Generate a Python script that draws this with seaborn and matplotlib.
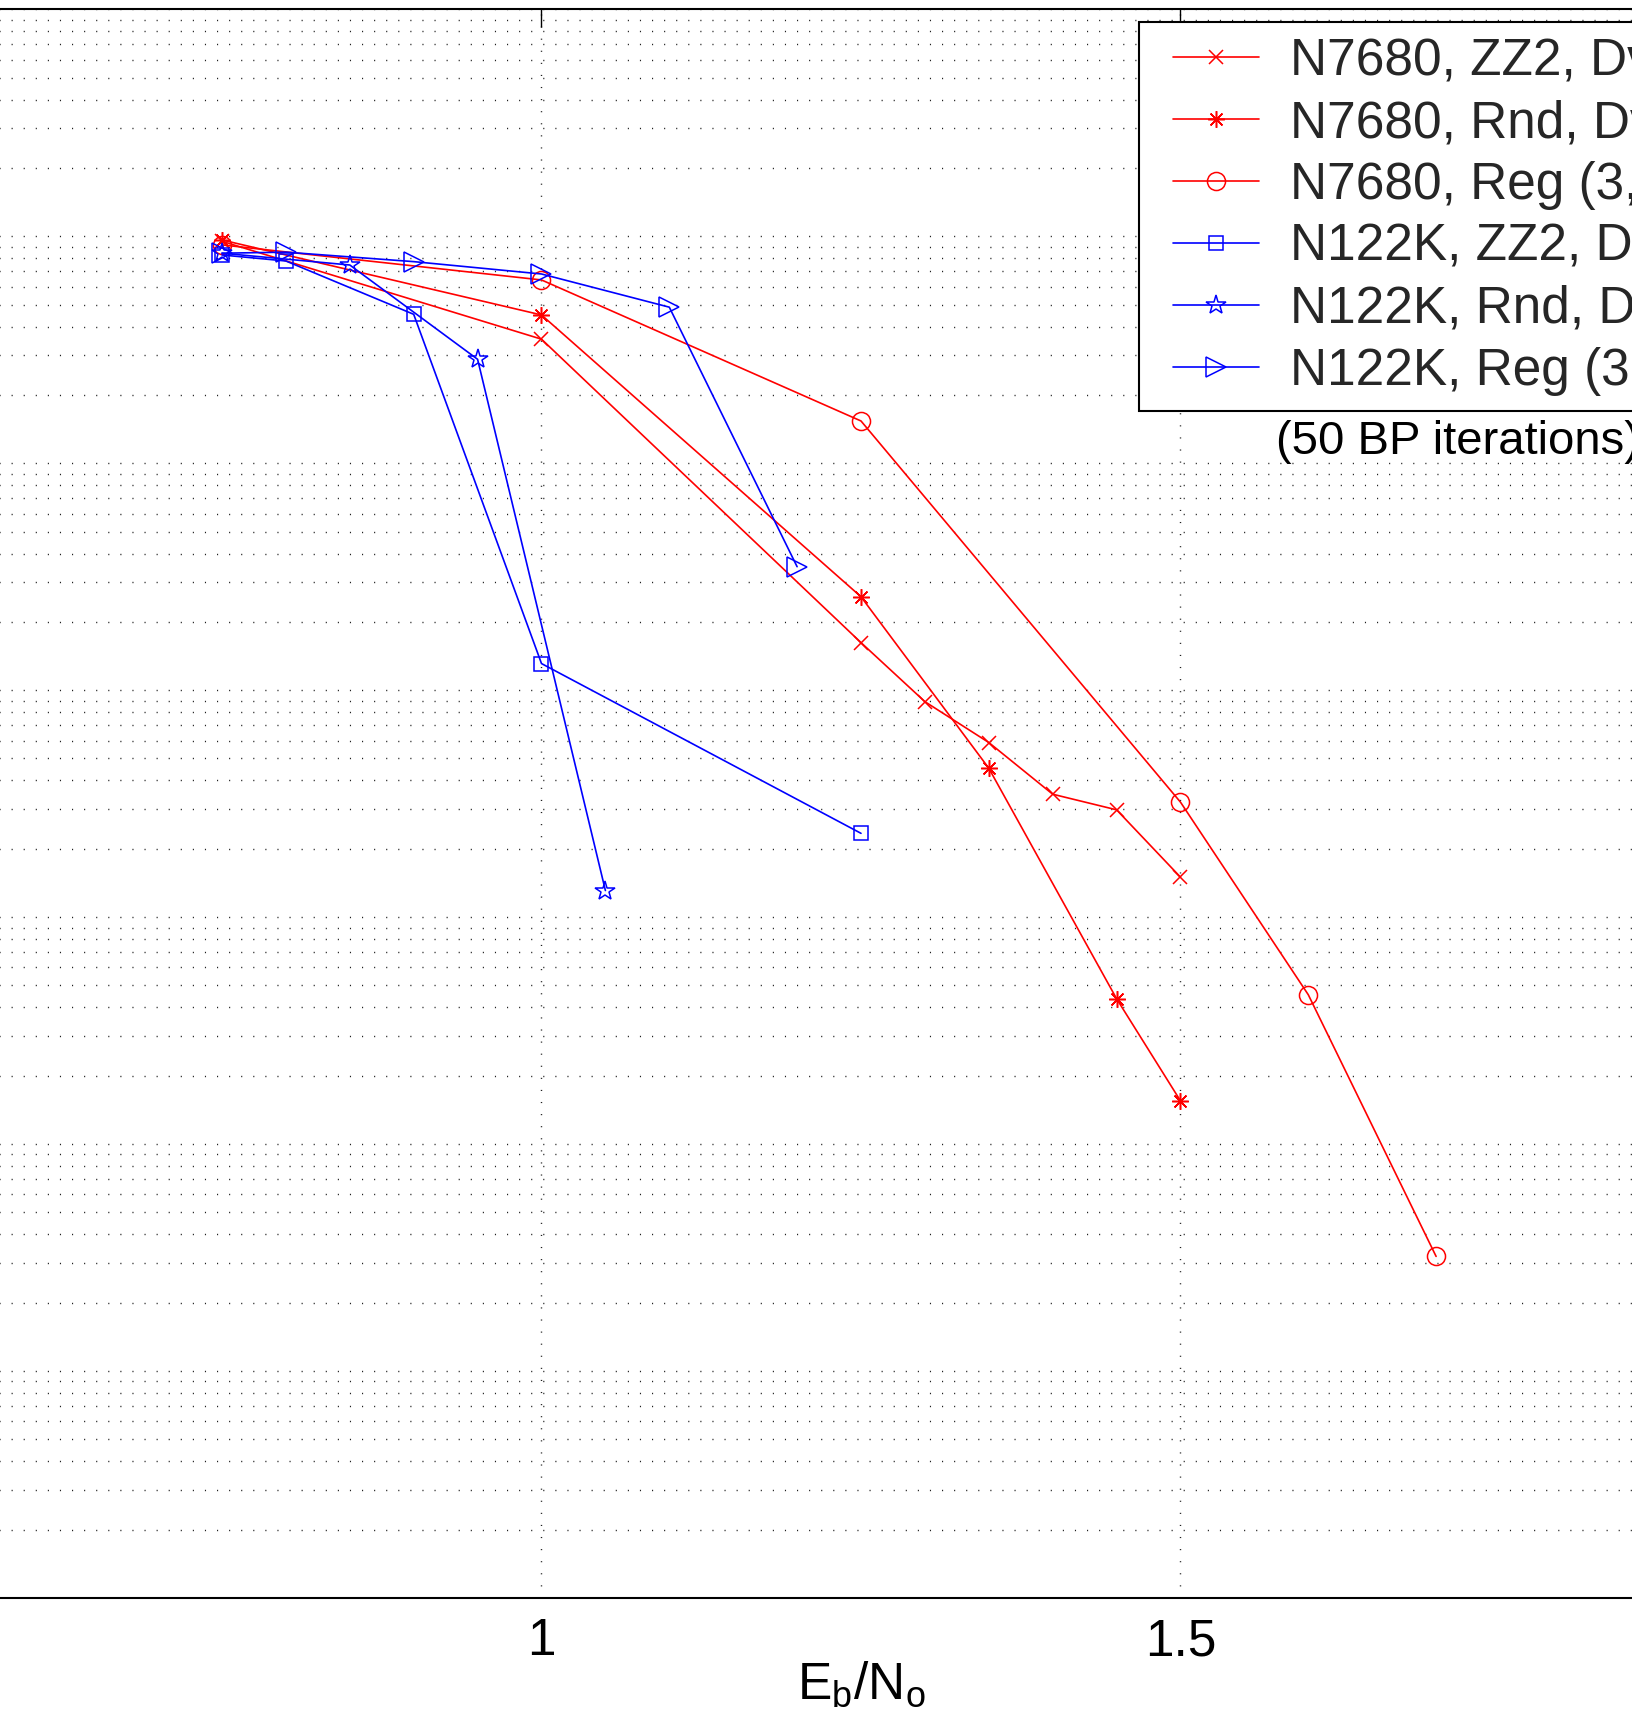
import matplotlib
matplotlib.use("Agg")
import matplotlib.pyplot as plt
import seaborn as sns
from matplotlib.ticker import LogLocator, NullFormatter
from matplotlib.legend_handler import HandlerLine2D

# Eb/No (x) and error rate (y)
ebno_n7680_zz2 = [0.75, 1.0, 1.25, 1.3, 1.35, 1.4, 1.45, 1.5]
ber_n7680_zz2 = [0.095, 0.0352, 0.00162, 0.00089, 0.000588, 0.000348, 0.000297, 0.000150]

ebno_n7680_rnd = [0.75, 1.0, 1.25, 1.35, 1.45, 1.5]
ber_n7680_rnd = [0.0963, 0.045, 0.00258, 0.000453, 4.37e-5, 1.55e-5]

ebno_n7680_reg = [0.75, 1.0, 1.25, 1.5, 1.6, 1.7]
ber_n7680_reg = [0.0916, 0.0642, 0.01535, 0.000321, 4.55e-5, 3.2e-6]

ebno_n122k_zz2 = [0.75, 0.8, 0.9, 1.0, 1.25]
ber_n122k_zz2 = [0.0827, 0.0778, 0.0453, 0.00131, 0.000234]

ebno_n122k_rnd = [0.75, 0.85, 0.95, 1.05]
ber_n122k_rnd = [0.0842, 0.0747, 0.0287, 0.000131]

ebno_n122k_reg = [0.75, 0.8, 0.9, 1.0, 1.1, 1.2]
ber_n122k_reg = [0.0842, 0.0851, 0.0773, 0.0682, 0.0487, 0.0035]

labels = [
    "N7680, ZZ2, Dv=3",
    "N7680, Rnd, Dv=3",
    "N7680, Reg (3,6)",
    "N122K, ZZ2, Dv=3",
    "N122K, Rnd, Dv=3",
    "N122K, Reg (3,6)",
]
xticks = [0.5, 1, 1.5, 2]
xticklabels = ["0.5", "1", "1.5", "2"]

series = [
    (ebno_n7680_zz2, ber_n7680_zz2, "#ff0000", "x", 10),
    (ebno_n7680_rnd, ber_n7680_rnd, "#ff0000", (8, 2, 0), 12),
    (ebno_n7680_reg, ber_n7680_reg, "#ff0000", "o", 13),
    (ebno_n122k_zz2, ber_n122k_zz2, "#0000ff", "s", 10.5),
    (ebno_n122k_rnd, ber_n122k_rnd, "#0000ff", "*", 15),
    (ebno_n122k_reg, ber_n122k_reg, "#0000ff", ">", 15),
]

sns.set_theme(style="white")
plt.rcParams["font.family"] = ["Liberation Sans", "DejaVu Sans"]
plt.rcParams["mathtext.fontset"] = "custom"
plt.rcParams["mathtext.rm"] = "Liberation Sans"
plt.rcParams["mathtext.it"] = "Liberation Sans"
plt.rcParams["lines.scale_dashes"] = False

FS = 37
W, H = 1632, 1735

fig = plt.figure(figsize=(W / 100, H / 100), dpi=100)
fig.patch.set_facecolor("white")
# the axes run past the left/right edges of the figure (cropped view)
ax = fig.add_axes([-97.5 / W, 137 / H, 1917 / W, 1588.7 / H])

for (xv, yv, col, mk, ms), lab in zip(series, labels):
    sns.lineplot(
        x=xv, y=yv, ax=ax, color=col, marker=mk, markersize=ms,
        markerfacecolor="none", markeredgecolor=col, markeredgewidth=1.1,
        linewidth=1.2, label=lab, legend=False, sort=False,
    )

ax.set_yscale("log")
ax.set_xlim(0.5, 2.0)
ax.set_ylim(1e-7, 1)
ax.set_xticks(xticks)
ax.set_xticklabels(xticklabels)
ax.yaxis.set_major_locator(LogLocator(base=10, numticks=20))
ax.yaxis.set_minor_locator(LogLocator(base=10, subs=range(2, 10), numticks=100))
ax.yaxis.set_minor_formatter(NullFormatter())

dots = (0, (0.8, 7.9))
ax.grid(True, which="major", axis="both", linestyle=dots, color="#202020", linewidth=1.0)
ax.grid(True, which="minor", axis="y", linestyle=dots, color="#202020", linewidth=1.0)

for s in ax.spines.values():
    s.set_linewidth(1.5)
    s.set_color("black")

ax.tick_params(axis="both", which="major", direction="in", length=13, width=1,
               top=True, right=True, labelsize=FS, pad=14, colors="black")
ax.tick_params(axis="y", which="minor", direction="in", length=7, width=1, right=True)

ax.set_xlabel(r"$\mathregular{E_b/N_o}$", fontsize=FS, labelpad=-5, color="black")

handles, labs = ax.get_legend_handles_labels()
leg = ax.legend(
    handles, labs, loc="upper left",
    bbox_to_anchor=(1138.6 / W, 1 - 22 / H), bbox_transform=fig.transFigure,
    borderaxespad=0, fontsize=FS, frameon=True, fancybox=False,
    edgecolor="black", framealpha=1, handlelength=2.04, handletextpad=0.6,
    borderpad=0.3, labelspacing=0.25,
    handler_map={h: HandlerLine2D(xpad=0.37) for h in handles},
)
leg.get_frame().set_linewidth(1.5)

fig.text(1276 / W, 1 - 442 / H, "(50 BP iterations)", fontsize=34,
         ha="left", va="center", color="black")

fig.savefig("out.png", dpi=100)
